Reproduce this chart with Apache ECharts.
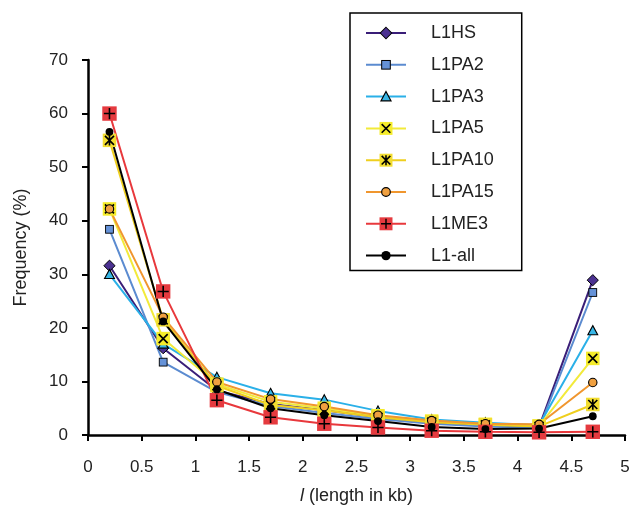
<!DOCTYPE html>
<html>
<head>
<meta charset="utf-8">
<script src="https://cdn.jsdelivr.net/npm/echarts@6/dist/echarts.min.js"></script>
<style>
html,body{margin:0;padding:0;background:#fff;}
#c{width:631px;height:506px;}
</style>
</head>
<body>
<div id="c"></div>
<script>
var xValues = [0.2, 0.7, 1.2, 1.7, 2.2, 2.7, 3.2, 3.7, 4.2, 4.7];
var seriesNames = ['L1HS', 'L1PA2', 'L1PA3', 'L1PA5', 'L1PA10', 'L1PA15', 'L1ME3', 'L1-all'];
var L1HS   = [31.6, 16.2, 8.3, 5.8, 4.6, 3.3, 2.3, 1.8, 1.5, 28.9];
var L1PA2  = [38.4, 13.6, 8.0, 5.4, 4.1, 3.0, 2.1, 1.6, 1.3, 26.6];
var L1PA3  = [30.0, 17.0, 10.8, 7.8, 6.6, 4.5, 2.9, 2.3, 1.8, 19.5];
var L1PA5  = [42.2, 18.0, 9.5, 6.2, 5.0, 3.6, 2.6, 2.0, 1.7, 14.3];
var L1PA10 = [55.0, 21.5, 9.2, 5.6, 4.6, 3.3, 2.4, 1.9, 1.6, 5.7];
var L1PA15 = [42.2, 22.0, 9.9, 6.7, 5.3, 3.7, 2.7, 2.1, 2.0, 9.8];
var L1ME3  = [60.0, 26.8, 6.5, 3.3, 2.1, 1.4, 0.8, 0.6, 0.5, 0.6];
var L1all  = [56.6, 21.2, 8.5, 5.0, 3.7, 2.6, 1.5, 1.1, 1.2, 3.5];
var allValues = [L1HS, L1PA2, L1PA3, L1PA5, L1PA10, L1PA15, L1ME3, L1all];
var xTicks = [0, 0.5, 1, 1.5, 2, 2.5, 3, 3.5, 4, 4.5, 5];

function svgSym(inner) {
  var s = "<svg xmlns='http://www.w3.org/2000/svg' width='20' height='20' viewBox='0 0 20 20'>" + inner + "</svg>";
  return 'image://data:image/svg+xml;charset=utf-8,' + encodeURIComponent(s);
}
var styles = [
  {line: '#3a1e78', sym: svgSym("<polygon points='10,2 18,10 10,18 2,10' fill='#4b3191' stroke='#000' stroke-width='1.4'/>"), size: 14},
  {line: '#5b8bd0', sym: svgSym("<rect x='4' y='4' width='12' height='12' fill='#6592d8' stroke='#000' stroke-width='1.4'/>"), size: 13},
  {line: '#2ab0e8', sym: svgSym("<polygon points='10,3 17,16 3,16' fill='#37b6e6' stroke='#000' stroke-width='1.6'/>"), size: 14},
  {line: '#f2ea3a', sym: svgSym("<rect x='1' y='1' width='18' height='18' fill='#f5ec2a'/><path d='M4,4 L16,16 M16,4 L4,16' stroke='#000' stroke-width='2.2'/>"), size: 15},
  {line: '#efcf1e', sym: svgSym("<rect x='1' y='1' width='18' height='18' fill='#f2dd30'/><path d='M4,4 L16,16 M16,4 L4,16 M10,3 L10,17' stroke='#000' stroke-width='2.2'/>"), size: 15},
  {line: '#f0962e', sym: svgSym("<circle cx='10' cy='10' r='6' fill='#f0a040' stroke='#000' stroke-width='1.6'/>"), size: 14},
  {line: '#e8383c', sym: svgSym("<rect x='1' y='1' width='18' height='18' fill='#e53a3f'/><path d='M10,3 L10,17 M3,10 L17,10' stroke='#000' stroke-width='2'/>"), size: 16},
  {line: '#000000', sym: svgSym("<circle cx='10' cy='10' r='6.5' fill='#000'/>"), size: 12}
];

var series = seriesNames.map(function (name, i) {
  return {
    name: name,
    type: 'line',
    data: xValues.map(function (x, j) { return [x, allValues[i][j]]; }),
    symbol: styles[i].sym,
    symbolSize: styles[i].size,
    showAllSymbol: true,
    lineStyle: {color: styles[i].line, width: 2},
    itemStyle: {color: styles[i].line},
    emphasis: {disabled: true},
    animation: false
  };
});

var chart = echarts.init(document.getElementById('c'), null, {renderer: 'canvas'});
chart.setOption({
  backgroundColor: '#fff',
  animation: false,
  textStyle: {fontFamily: 'Liberation Sans, Arial, sans-serif'},
  grid: {left: 88, right: 6, top: 60, bottom: 71, containLabel: false, outerBoundsMode: 'none'},
  legend: {
    data: seriesNames,
    orient: 'vertical',
    left: 350,
    top: 13,
    width: 171,
    padding: [11, 28, 6, 15],
    itemGap: 13.8,
    itemWidth: 40,
    itemHeight: 18,
    borderColor: '#000',
    borderWidth: 1.5,
    backgroundColor: '#fff',
    textStyle: {fontSize: 18, color: '#222', padding: [0, 0, 0, 20], lineHeight: 18, fontFamily: 'Liberation Sans, Arial, sans-serif'}
  },
  xAxis: {
    type: 'value',
    min: 0, max: 5, interval: 0.5,
    name: '{i|l} (length in kb)',
    nameLocation: 'middle',
    nameGap: 52,
    nameTextStyle: {fontSize: 18, color: '#222', rich: {i: {fontStyle: 'italic', fontSize: 18, color: '#222'}}},
    axisLine: {show: true, lineStyle: {color: '#000', width: 2.5}},
    axisTick: {show: true, length: 6, inside: false, lineStyle: {color: '#000', width: 2}},
    axisLabel: {fontSize: 17, color: '#222', margin: 24, formatter: function (v) { return xTicks.indexOf(v) >= 0 ? String(v) : ''; }},
    splitLine: {show: false}
  },
  yAxis: {
    type: 'value',
    min: 0, max: 70, interval: 10,
    name: 'Frequency (%)',
    nameLocation: 'middle',
    nameGap: 58,
    nameRotate: 90,
    nameTextStyle: {fontSize: 18, color: '#222'},
    axisLine: {show: true, lineStyle: {color: '#000', width: 2.5}},
    axisTick: {show: true, length: 6, inside: false, lineStyle: {color: '#000', width: 2}},
    axisLabel: {fontSize: 17, color: '#222', margin: 20},
    splitLine: {show: false}
  },
  series: series
});
</script>
</body>
</html>
